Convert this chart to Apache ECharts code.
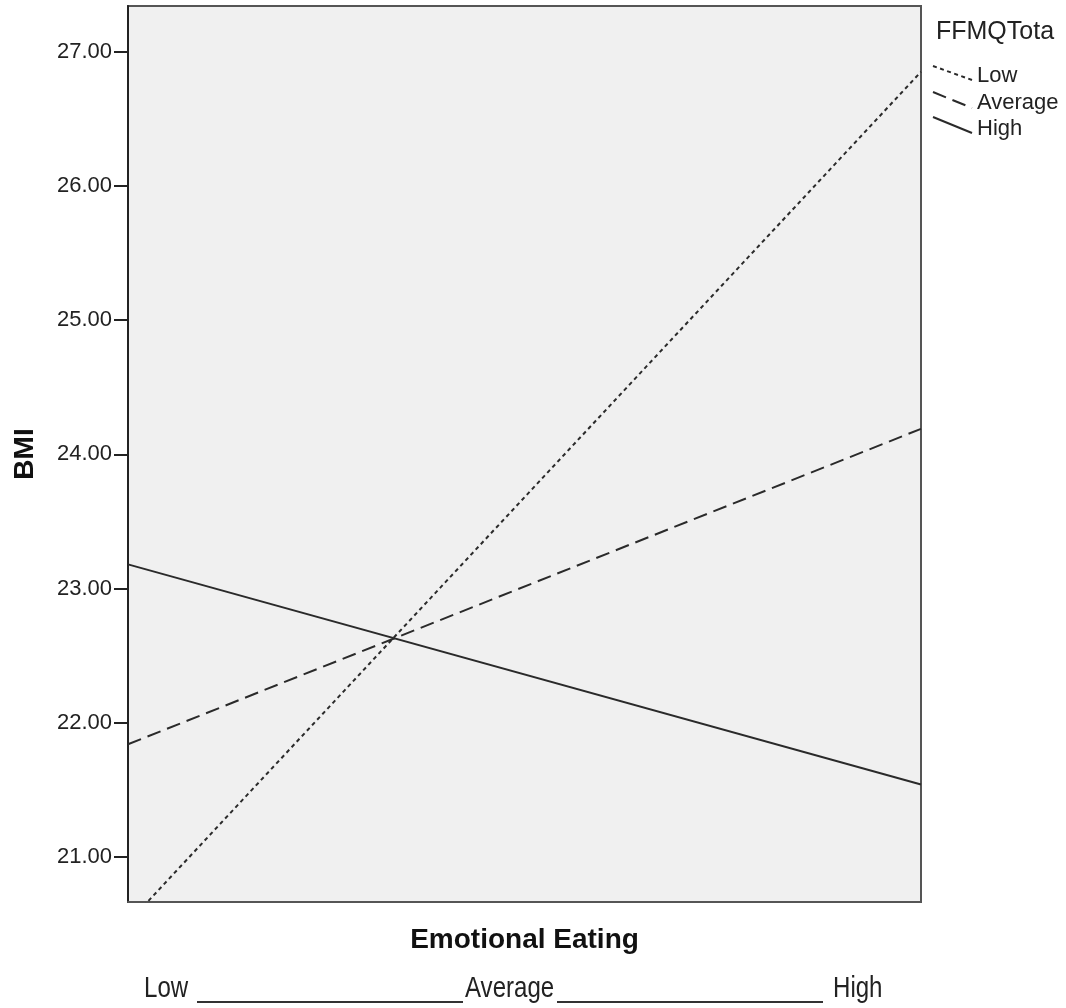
<!DOCTYPE html>
<html>
<head>
<meta charset="utf-8">
<script src="https://cdn.jsdelivr.net/npm/echarts@6/dist/echarts.min.js"></script>
<style>
html,body{margin:0;padding:0;background:#fff;}
#chart{width:1066px;height:1008px;}
</style>
</head>
<body>
<div id="chart"></div>
<script>
// Data
const xPositions = [0, 1]; // Emotional Eating: Low (-1SD) .. High (+1SD)
const groupNames = ['Low', 'Average', 'High'];
const lowValues = [20.51, 26.85];
const averageValues = [21.84, 24.19];
const highValues = [23.18, 21.54];
const yTicks = [21, 22, 23, 24, 25, 26, 27];
const xLabels = ['Low', 'Average', 'High'];

const FONT = 'Liberation Sans, Arial, sans-serif';
const LINE = '#2a2a2a';

function pts(vals) { return xPositions.map((x, i) => [x, vals[i]]); }

const chart = echarts.init(document.getElementById('chart'), null, {renderer: 'canvas'});

const option = {
  animation: false,
  backgroundColor: '#ffffff',
  grid: {
    left: 128, right: 145, top: 6, bottom: 106,
    show: true, backgroundColor: '#f0f0f0', borderColor: '#555', borderWidth: 2
  },
  xAxis: {
    type: 'value', min: 0, max: 1,
    axisLine: {show: true, onZero: false, lineStyle: {color: '#555', width: 2}},
    axisTick: {show: false}, axisLabel: {show: false}, splitLine: {show: false},
    name: 'Emotional Eating', nameLocation: 'middle', nameGap: 24,
    nameTextStyle: {fontFamily: FONT, fontSize: 28, fontWeight: 'bold', color: '#111'}
  },
  yAxis: {
    type: 'value', min: 20.665, max: 27.34,
    axisLine: {show: true, lineStyle: {color: '#222', width: 2}},
    axisTick: {show: true, customValues: yTicks, length: 14, lineStyle: {color: '#222', width: 2}},
    axisLabel: {
      customValues: yTicks, margin: 16,
      formatter: v => Number(v).toFixed(2),
      fontFamily: FONT, fontSize: 22, color: '#222'
    },
    splitLine: {show: false},
    name: 'BMI', nameLocation: 'middle', nameRotate: 90, nameGap: 89,
    nameTextStyle: {fontFamily: FONT, fontSize: 28, fontWeight: 'bold', color: '#111'}
  },
  series: [
    {name: groupNames[0], type: 'line', data: pts(lowValues), symbol: 'none', clip: true,
     lineStyle: {color: LINE, width: 2, type: [4, 3.5]}},
    {name: groupNames[1], type: 'line', data: pts(averageValues), symbol: 'none', clip: true,
     lineStyle: {color: LINE, width: 2, type: [14, 7]}},
    {name: groupNames[2], type: 'line', data: pts(highValues), symbol: 'none', clip: true,
     lineStyle: {color: LINE, width: 2, type: 'solid'}}
  ],
  graphic: [
    // legend
    {type: 'text', x: 936, y: 32, style: {text: 'FFMQTota', font: '25px ' + FONT, fill: '#222', verticalAlign: 'middle'}},
    {type: 'line', shape: {x1: 933, y1: 66, x2: 972, y2: 80}, style: {stroke: LINE, lineWidth: 2, lineDash: [4, 3.5]}},
    {type: 'text', x: 977, y: 76, style: {text: groupNames[0], font: '22px ' + FONT, fill: '#222', verticalAlign: 'middle'}},
    {type: 'line', shape: {x1: 933, y1: 92, x2: 972, y2: 108}, style: {stroke: LINE, lineWidth: 2, lineDash: [14, 7]}},
    {type: 'text', x: 977, y: 103, style: {text: groupNames[1], font: '22px ' + FONT, fill: '#222', verticalAlign: 'middle'}},
    {type: 'line', shape: {x1: 933, y1: 117, x2: 972, y2: 133}, style: {stroke: LINE, lineWidth: 2}},
    {type: 'text', x: 977, y: 129, style: {text: groupNames[2], font: '22px ' + FONT, fill: '#222', verticalAlign: 'middle'}},
    // bottom x scale text
    {type: 'text', x: 144, y: 989, scaleX: 0.83, style: {text: xLabels[0], font: '29px ' + FONT, fill: '#222', verticalAlign: 'middle'}},
    {type: 'line', shape: {x1: 197, y1: 1002, x2: 463, y2: 1002}, style: {stroke: '#333', lineWidth: 2}},
    {type: 'text', x: 465, y: 989, scaleX: 0.83, style: {text: xLabels[1], font: '29px ' + FONT, fill: '#222', verticalAlign: 'middle'}},
    {type: 'line', shape: {x1: 557, y1: 1002, x2: 823, y2: 1002}, style: {stroke: '#333', lineWidth: 2}},
    {type: 'text', x: 833, y: 989, scaleX: 0.83, style: {text: xLabels[2], font: '29px ' + FONT, fill: '#222', verticalAlign: 'middle'}}
  ]
};
chart.setOption(option);
</script>
</body>
</html>
